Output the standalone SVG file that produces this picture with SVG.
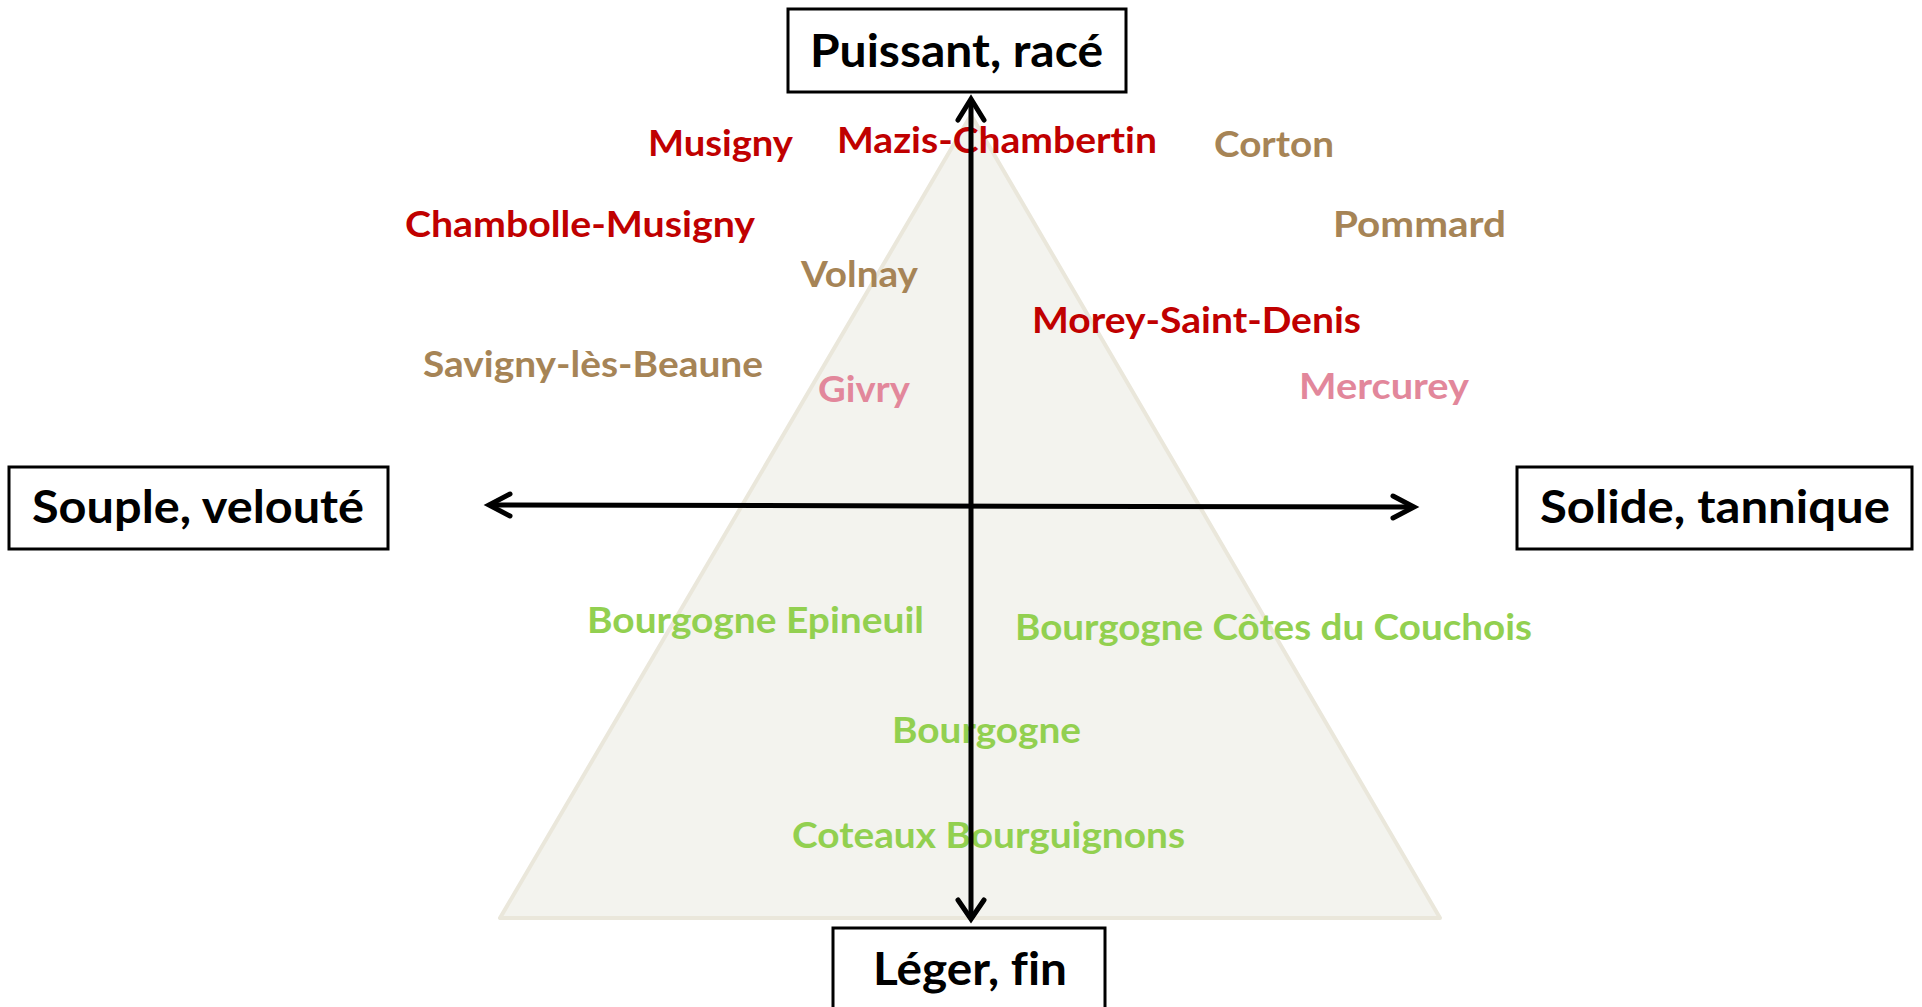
<svg xmlns="http://www.w3.org/2000/svg" width="1922" height="1007" viewBox="0 0 1922 1007">
<defs>
<linearGradient id="topline" x1="0" y1="0" x2="1" y2="0">
<stop offset="0" stop-color="#e2d6c2"/>
<stop offset="0.3" stop-color="#c6b08e"/>
<stop offset="0.7" stop-color="#d3c3a7"/>
<stop offset="1" stop-color="#ece4d6"/>
</linearGradient>
</defs>
<style>
text{font-variant-ligatures:none;font-feature-settings:"liga" 0,"clig" 0}
.box{fill:#ffffff;stroke:#000000;stroke-width:3}
.lbl{font-family:Lato,"Open Sans","Liberation Sans",sans-serif;font-weight:bold;font-size:45px;fill:#000000}
.w{font-family:Lato,"Open Sans","Liberation Sans",sans-serif;font-weight:bold;font-size:36px}
.red{fill:#C00000}
.tan{fill:#A68456}
.pink{fill:#E2879B}
.green{fill:#92D050}
.axis{fill:none;stroke:#000000;stroke-width:5}
.head{fill:none;stroke:#000000;stroke-width:5;stroke-linecap:round;stroke-linejoin:miter}
</style>
<rect width="1922" height="1007" fill="#ffffff"/>
<line x1="0" y1="3" x2="1912" y2="3" stroke="url(#topline)" stroke-width="2"/>
<g id="triangle">
<polygon points="971,115 500,918 1440,918" fill="#F3F3EE" stroke="#EAE7DB" stroke-width="4" stroke-linejoin="round"/>
</g>
<g id="appellations">
<text class="w red" x="648" y="156" textLength="145" lengthAdjust="spacingAndGlyphs">Musigny</text>
<text class="w red" x="837" y="153" textLength="320" lengthAdjust="spacingAndGlyphs">Mazis-Chambertin</text>
<text class="w tan" x="1214" y="157" textLength="120" lengthAdjust="spacingAndGlyphs">Corton</text>
<text class="w red" x="405" y="237" textLength="350" lengthAdjust="spacingAndGlyphs">Chambolle-Musigny</text>
<text class="w tan" x="1333" y="237" textLength="173" lengthAdjust="spacingAndGlyphs">Pommard</text>
<text class="w tan" x="801" y="287" textLength="117" lengthAdjust="spacingAndGlyphs">Volnay</text>
<text class="w red" x="1032" y="333" textLength="329" lengthAdjust="spacingAndGlyphs">Morey-Saint-Denis</text>
<text class="w tan" x="423" y="377" textLength="340" lengthAdjust="spacingAndGlyphs">Savigny-lès-Beaune</text>
<text class="w pink" x="818" y="402" textLength="92" lengthAdjust="spacingAndGlyphs">Givry</text>
<text class="w pink" x="1299" y="399" textLength="170" lengthAdjust="spacingAndGlyphs">Mercurey</text>
<text class="w green" x="587" y="633" textLength="337" lengthAdjust="spacingAndGlyphs">Bourgogne Epineuil</text>
<text class="w green" x="1015" y="640" textLength="517" lengthAdjust="spacingAndGlyphs">Bourgogne Côtes du Couchois</text>
<text class="w green" x="892" y="743" textLength="189" lengthAdjust="spacingAndGlyphs">Bourgogne</text>
<text class="w green" x="792" y="848" textLength="393" lengthAdjust="spacingAndGlyphs">Coteaux Bourguignons</text>
</g>
<g id="connectors">
<line class="axis" x1="971" y1="100" x2="971" y2="918"/>
<polyline class="head" points="958,120 971,99 984,120"/>
<polyline class="head" points="958,900 971,919 984,900"/>
<line class="axis" x1="490" y1="505" x2="1413" y2="507"/>
<polyline class="head" points="510,494 489,505 510,516"/>
<polyline class="head" points="1393,496 1414,507 1393,518"/>
</g>
<g id="node-top">
<rect class="box" x="788" y="9" width="338" height="83"/>
<text class="lbl" x="810" y="67" textLength="293" lengthAdjust="spacingAndGlyphs">Puissant, racé</text>
</g>
<g id="node-left">
<rect class="box" x="9" y="467" width="379" height="82"/>
<text class="lbl" x="32" y="523" textLength="332" lengthAdjust="spacingAndGlyphs">Souple, velouté</text>
</g>
<g id="node-right">
<rect class="box" x="1517" y="467" width="395" height="82"/>
<text class="lbl" x="1540" y="523" textLength="350" lengthAdjust="spacingAndGlyphs">Solide, tannique</text>
</g>
<g id="node-bottom">
<rect class="box" x="833" y="928" width="272" height="100"/>
<text class="lbl" x="873" y="985" textLength="194" lengthAdjust="spacingAndGlyphs">Léger, fin</text>
</g>
</svg>
